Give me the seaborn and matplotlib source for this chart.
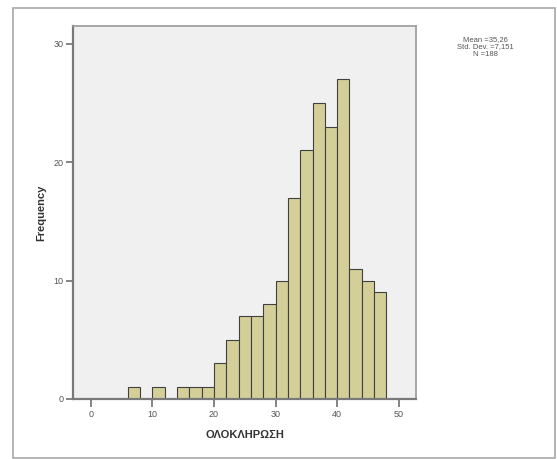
import numpy as np
import pandas as pd
import matplotlib
matplotlib.use("Agg")
import matplotlib.pyplot as plt
from matplotlib.patches import Rectangle
import seaborn as sns

# histogram bins (width 2) and counts
bin_left = [6, 8, 10, 12, 14, 16, 18, 20, 22, 24, 26, 28, 30, 32, 34, 36, 38, 40, 42, 44, 46]
counts = [1, 0, 1, 0, 1, 1, 1, 3, 5, 7, 7, 8, 10, 17, 21, 25, 23, 27, 11, 10, 9]
x_ticks = [0, 10, 20, 30, 40, 50]
y_ticks = [0, 10, 20, 30]
stats_text = "Mean =35,26\nStd. Dev. =7,151\nN =188"

df = pd.DataFrame({"score": np.array(bin_left) + 1, "n": counts})

sns.set_style("white")
plt.rcParams["font.family"] = ["Liberation Sans", "DejaVu Sans"]

fig = plt.figure(figsize=(5.57, 4.59), dpi=100)
ax = fig.add_axes([73 / 557, 1 - 399 / 459, (416 - 73) / 557, (399 - 26) / 459])
ax.set_facecolor("#f0f0f0")

sns.histplot(
    data=df,
    x="score",
    weights="n",
    binwidth=2,
    binrange=(6, 48),
    color="#d4cf98",
    edgecolor="#404040",
    linewidth=0.8,
    alpha=1,
    ax=ax
)

ax.set_xlim(-2.9, 52.8)
ax.set_ylim(0, 31.5)
ax.set_xticks(x_ticks)
ax.set_yticks(y_ticks)
ax.tick_params(axis="both", direction="out", length=5, width=1.2,
               bottom=True, left=True,
               color="#707070", labelsize=6.5, labelcolor="#555555", pad=2)
ax.tick_params(axis="x", length=6)

for side in ["left", "bottom"]:
    ax.spines[side].set_color("#7a7a7a")
    ax.spines[side].set_linewidth(1.6)
for side in ["top", "right"]:
    ax.spines[side].set_color("#9a9a9a")
    ax.spines[side].set_linewidth(1.2)

ax.set_xlabel("ΟΛΟΚΛΗΡΩΣΗ", fontsize=8, fontweight="bold", color="#333333", labelpad=8)
ax.set_ylabel("Frequency", fontsize=8, fontweight="bold", color="#333333", labelpad=5)

fig.text(485 / 557, 1 - 47 / 459, stats_text, ha="center", va="center",
         fontsize=5.5, color="#555555", linespacing=1.0)

# outer chart border
fig.patches.append(Rectangle((12.5 / 557, 1 / 459), (555 - 12.5) / 557, 1 - 9 / 459,
                             transform=fig.transFigure, fill=False,
                             edgecolor="#a8a8a8", linewidth=1.2))

fig.savefig("out.png", dpi=100)
